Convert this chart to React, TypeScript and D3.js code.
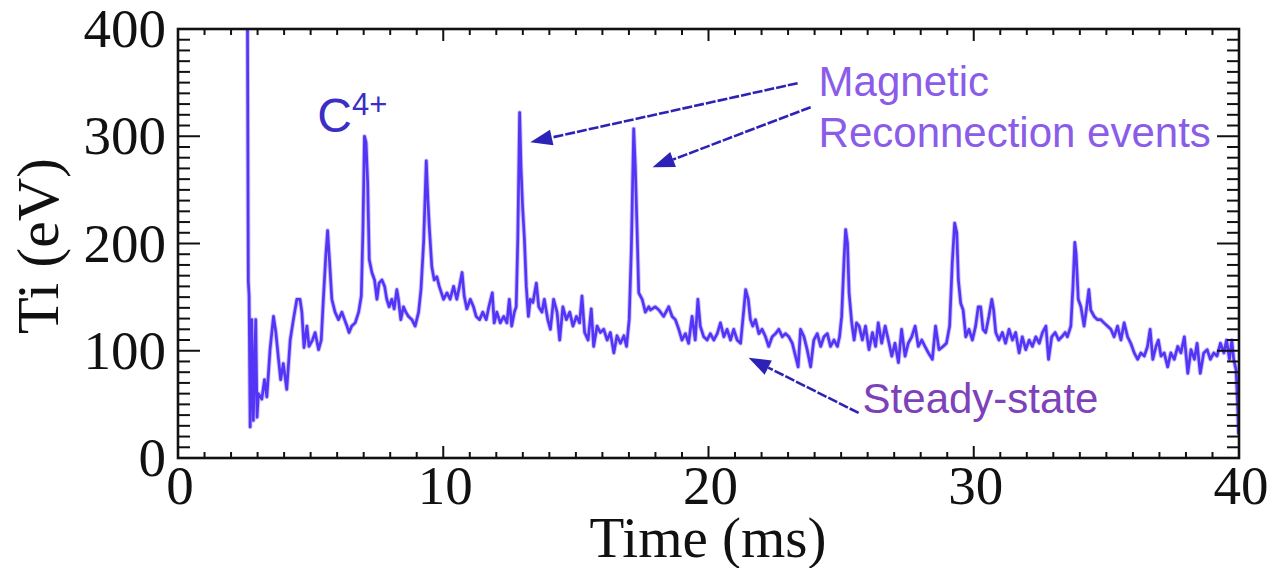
import React from "react";
import * as d3 from "d3";

// ---- data (Time in ms, Ti in eV) ----
const timeMs: number[] = [
  2.62, 2.65, 2.68, 2.72, 2.78, 2.84, 2.93, 2.98, 3.03, 3.16,
  3.26, 3.35, 3.47, 3.60, 3.69, 3.79, 3.87, 3.97, 4.10, 4.23,
  4.35, 4.48, 4.60, 4.67, 4.75, 4.86, 4.94, 5.07, 5.17, 5.30,
  5.40, 5.48, 5.57, 5.64, 5.71, 5.80, 5.92, 6.05, 6.18, 6.28,
  6.37, 6.45, 6.55, 6.68, 6.81, 6.91, 6.97, 7.03, 7.09, 7.15,
  7.21, 7.31, 7.41, 7.50, 7.58, 7.69, 7.79, 7.87, 7.96, 8.06,
  8.15, 8.25, 8.31, 8.40, 8.50, 8.59, 8.69, 8.82, 8.94, 9.07,
  9.16, 9.26, 9.36, 9.42, 9.48, 9.57, 9.66, 9.76, 9.85,
  10.01, 10.14, 10.26, 10.39, 10.51, 10.61, 10.71, 10.79, 10.89, 11.02,
  11.14, 11.24, 11.37, 11.49, 11.62, 11.72, 11.85, 11.92, 12.02, 12.15,
  12.28, 12.40, 12.49, 12.58, 12.68, 12.75, 12.81, 12.88, 12.93, 12.99,
  13.06, 13.13, 13.21, 13.28, 13.38, 13.51, 13.60, 13.72, 13.81, 13.94,
  14.04, 14.16, 14.29, 14.39, 14.51, 14.64, 14.77, 14.89, 15.02, 15.14,
  15.23, 15.33, 15.46, 15.58, 15.67, 15.80, 15.92, 16.05, 16.18, 16.30,
  16.43, 16.55, 16.68, 16.81, 16.91, 17.01, 17.09, 17.18, 17.24, 17.31,
  17.37, 17.50, 17.62, 17.75,
  17.81, 17.99, 18.13, 18.31, 18.50, 18.63, 18.75, 18.88, 19.00, 19.13,
  19.25, 19.38, 19.50, 19.60, 19.69, 19.82, 19.95, 20.07, 20.20, 20.33,
  20.45, 20.58, 20.70, 20.83, 20.95, 21.08, 21.21, 21.33, 21.40, 21.50,
  21.58, 21.67, 21.77, 21.90, 22.02, 22.15, 22.27, 22.40, 22.53, 22.65,
  22.78, 22.90, 23.03, 23.16, 23.28, 23.38, 23.47, 23.60, 23.72, 23.85,
  23.97, 24.10, 24.23, 24.35, 24.48, 24.60, 24.73, 24.86, 24.94, 25.02,
  25.11, 25.17, 25.24, 25.30, 25.40, 25.49, 25.58, 25.68,
  25.80, 25.92, 26.05, 26.18, 26.30, 26.40, 26.53, 26.66, 26.78, 26.91,
  27.03, 27.16, 27.28, 27.41, 27.53, 27.66, 27.79, 27.91, 28.04, 28.16,
  28.29, 28.44, 28.56, 28.69, 28.84, 28.97, 29.09, 29.19, 29.28, 29.36,
  29.42, 29.51, 29.60, 29.70, 29.82, 29.95, 30.07, 30.17, 30.26, 30.35,
  30.45, 30.57, 30.68, 30.75, 30.83, 30.95, 31.08, 31.20, 31.33, 31.46,
  31.58, 31.71, 31.83, 31.96, 32.09, 32.21, 32.34, 32.47, 32.59, 32.72,
  32.82, 32.94, 33.07, 33.20, 33.32, 33.45,
  33.53, 33.66, 33.74, 33.81, 33.86, 33.94, 34.04, 34.16, 34.26, 34.34,
  34.41, 34.54, 34.66, 34.79, 34.91, 35.04, 35.17, 35.29, 35.42, 35.55,
  35.67, 35.80, 35.92, 36.05, 36.18, 36.30, 36.43, 36.55, 36.65, 36.75,
  36.87, 36.96, 37.06, 37.18, 37.31, 37.43, 37.56, 37.69, 37.81, 37.94,
  38.07, 38.19, 38.32, 38.42, 38.54, 38.67, 38.80, 38.92, 39.05, 39.17,
  39.30, 39.43, 39.53, 39.64, 39.73, 39.80, 39.89, 39.95, 39.98,
];

const tiEv: number[] = [
  400, 165, 151, 29, 129, 35, 129, 38, 60, 55,
  73, 57, 101, 132, 117, 92, 73, 88, 64, 110,
  129, 148, 148, 136, 103, 123, 104, 110, 117, 101,
  110, 148, 188, 212, 185, 148, 136, 129, 136, 129,
  123, 117, 123, 126, 136, 151, 210, 300, 294, 257,
  185, 173, 166, 148, 163, 166, 160, 148, 141, 148,
  139, 157, 148, 129, 141, 136, 132, 129, 123, 136,
  157, 201, 277, 241, 213, 178, 166, 169, 160,
  148, 154, 148, 160, 148, 160, 173, 151, 139, 148,
  141, 132, 129, 136, 129, 141, 154, 126, 136, 126,
  132, 126, 148, 123, 136, 141, 204, 322, 272, 235,
  204, 160, 132, 148, 145, 163, 141, 136, 148, 129,
  120, 148, 136, 110, 141, 129, 136, 123, 132, 126,
  151, 117, 110, 139, 104, 123, 117, 120, 110, 117,
  98, 114, 107, 114, 104, 129, 194, 307, 272, 210,
  154, 148, 136, 141,
  138, 141, 138, 132, 141, 132, 129, 120, 110, 116,
  107, 132, 110, 148, 123, 113, 110, 116, 110, 116,
  126, 113, 120, 110, 120, 110, 107, 138, 157, 148,
  129, 123, 129, 116, 120, 113, 104, 113, 116, 120,
  113, 116, 113, 107, 95, 85, 120, 113, 101, 85,
  110, 116, 104, 113, 116, 104, 110, 104, 113, 132,
  185, 213, 200, 154, 126, 110, 126, 123,
  110, 123, 101, 117, 104, 126, 107, 123, 110, 95,
  107, 89, 120, 95, 107, 113, 123, 104, 110, 104,
  98, 92, 123, 101, 104, 107, 123, 182, 219, 210,
  166, 144, 138, 113, 120, 110, 123, 141, 141, 120,
  117, 132, 148, 138, 117, 110, 117, 107, 120, 110,
  117, 98, 113, 101, 110, 104, 113, 107, 117, 123,
  92, 113, 117, 110, 113, 117,
  113, 123, 160, 201, 190, 148, 141, 123, 141, 157,
  138, 132, 129, 129, 126, 123, 120, 113, 123, 110,
  126, 113, 107, 98, 92, 98, 95, 104, 120, 92,
  104, 110, 95, 98, 85, 98, 92, 104, 98, 113,
  79, 101, 92, 107, 79, 98, 101, 92, 98, 95,
  107, 98, 110, 92, 110, 92, 82, 48, 22,
];

const xTickLabels = [0, 10, 20, 30, 40];
const yTickLabels = [0, 100, 200, 300, 400];

// annotations, in data coordinates
const eventLabelLines = ["Magnetic", "Reconnection events"];
const eventArrows: { from: [number, number]; to: [number, number] }[] = [
  { from: [23.36, 349.5], to: [13.28, 294.4] },
  { from: [23.85, 327.1], to: [17.89, 271.0] },
];
const steadyArrow = { from: [25.66, 42], to: [21.51, 93.5] } as {
  from: [number, number];
  to: [number, number];
};

const W = 1268;
const H = 568;
const M = { left: 178, right: 1239, top: 29, bottom: 458 };

const SERIF = "'Liberation Serif', 'Times New Roman', Times, serif";
const SANS = "'Liberation Sans', Arial, Helvetica, sans-serif";

export default function App() {
  const x = d3.scaleLinear().domain([0, 40]).range([M.left, M.right]);
  const y = d3.scaleLinear().domain([0, 400]).range([M.bottom, M.top]);

  const pts: [number, number][] = timeMs.map((t, i) => [t, tiEv[i]]);
  const line = d3
    .line<[number, number]>()
    .x((d) => x(d[0]))
    .y((d) => y(d[1]))(pts) as string;

  const xMinor = d3.range(0, 41, 1);
  const yMinor = d3.range(0, 401, 10);

  const arrow = (
    a: { from: [number, number]; to: [number, number] },
    key: string
  ) => {
    const x1 = x(a.from[0]);
    const y1 = y(a.from[1]);
    const x2 = x(a.to[0]);
    const y2 = y(a.to[1]);
    const ang = Math.atan2(y2 - y1, x2 - x1);
    const L = 22;
    const Wd = 8;
    const bx = x2 - L * Math.cos(ang);
    const by = y2 - L * Math.sin(ang);
    const px = -Math.sin(ang) * Wd;
    const py = Math.cos(ang) * Wd;
    return (
      <g key={key}>
        <line
          x1={x1}
          y1={y1}
          x2={bx}
          y2={by}
          stroke="#2d22b8"
          strokeWidth={2.6}
          strokeDasharray="10 2"
        />
        <polygon
          points={`${x2},${y2} ${bx + px},${by + py} ${bx - px},${by - py}`}
          fill="#2d22b8"
        />
      </g>
    );
  };

  return (
    <svg
      width={W}
      height={H}
      style={{ position: "absolute", left: 0, top: 0, background: "#fff" }}
    >
      <defs>
        <clipPath id="plotClip">
          <rect x={M.left} y={M.top} width={M.right - M.left} height={M.bottom - M.top} />
        </clipPath>
      </defs>

      {/* data */}
      <g clipPath="url(#plotClip)">
        <path d={line} fill="none" stroke="#7a66ff" strokeOpacity={0.4} strokeWidth={4.6} strokeLinejoin="round" />
        <path d={line} fill="none" stroke="#5535f5" strokeWidth={2.7} strokeLinejoin="round" />
      </g>

      {/* ticks */}
      <g stroke="#111" strokeWidth={2}>
        {xMinor.map((t) => {
          const major = t % 10 === 0;
          const len = major ? 12 : 6;
          return (
            <g key={"xt" + t}>
              <line x1={x(t)} x2={x(t)} y1={M.bottom} y2={M.bottom - len} />
              <line x1={x(t)} x2={x(t)} y1={M.top} y2={M.top + len} />
            </g>
          );
        })}
        {yMinor.map((v) => {
          const major = v % 100 === 0;
          const len = major ? 22 : 12;
          return (
            <g key={"yt" + v}>
              <line x1={M.left} x2={M.left + len} y1={y(v)} y2={y(v)} />
              <line x1={M.right} x2={M.right - len} y1={y(v)} y2={y(v)} />
            </g>
          );
        })}
      </g>

      {/* frame */}
      <rect
        x={M.left}
        y={M.top}
        width={M.right - M.left}
        height={M.bottom - M.top}
        fill="none"
        stroke="#111"
        strokeWidth={2.6}
      />

      {/* tick labels */}
      <g fontFamily={SERIF} fontSize={55} fill="#111">
        {yTickLabels.map((v) => (
          <text key={"yl" + v} x={M.left - 12} y={y(v) + 18} textAnchor="end">
            {v}
          </text>
        ))}
        {xTickLabels.map((t) => (
          <text key={"xl" + t} x={x(t) + 2} y={504} textAnchor="middle">
            {t}
          </text>
        ))}
      </g>

      {/* axis titles */}
      <text
        x={708}
        y={557}
        textAnchor="middle"
        fontFamily={SERIF}
        fontSize={57}
        fill="#111"
      >
        Time (ms)
      </text>
      <text
        transform={`translate(58, ${246}) rotate(-90)`}
        textAnchor="middle"
        fontFamily={SERIF}
        fontSize={60}
        fill="#111"
      >
        Ti (eV)
      </text>

      {/* C4+ label */}
      <text x={x(5.25)} y={y(303.7)} fontFamily={SANS} fontSize={48} fill="#3b2ec4">
        C
        <tspan fontSize={31} dy={-17}>4+</tspan>
      </text>

      {/* event annotations */}
      {eventArrows.map((a, i) => arrow(a, "ea" + i))}
      {arrow(steadyArrow, "sa")}
      <g fontFamily={SANS} fontSize={42} fill="#8a5ce8">
        {eventLabelLines.map((s, i) => (
          <text key={s} x={x(24.15)} y={y(337.4) + i * 51}>
            {s}
          </text>
        ))}
      </g>
      <text x={x(25.81)} y={y(42)} fontFamily={SANS} fontSize={42} fill="#7d41b9">
        Steady-state
      </text>
    </svg>
  );
}
